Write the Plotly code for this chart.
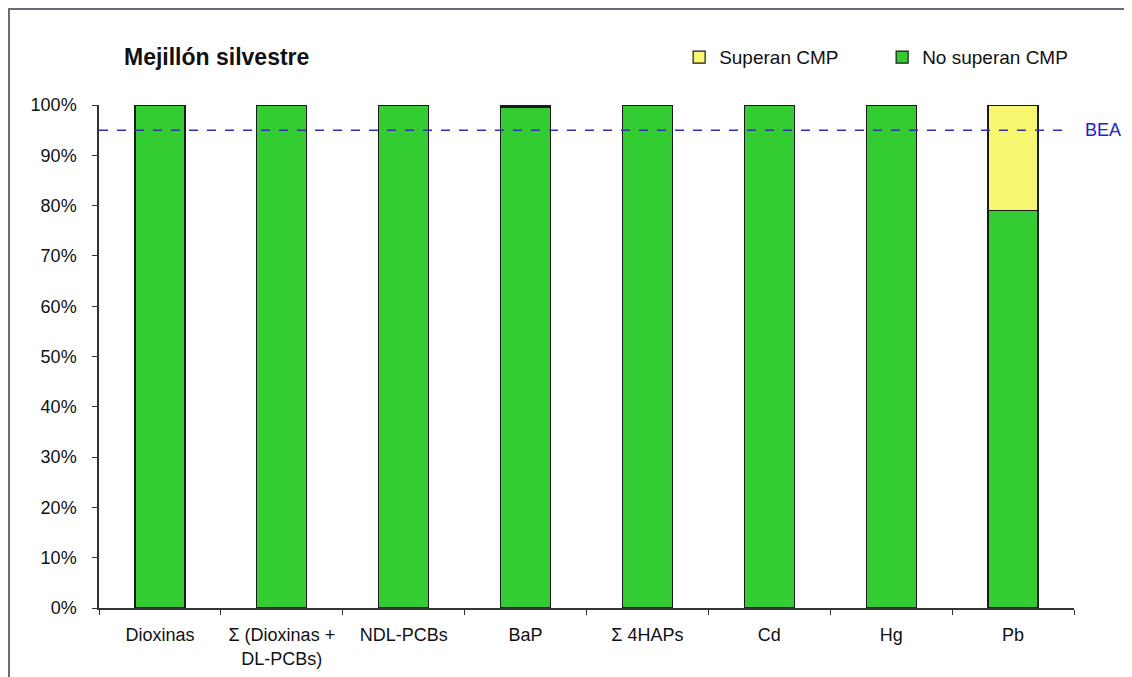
import plotly.graph_objects as go

categories = ["Dioxinas", "Σ (Dioxinas +<br>DL-PCBs)", "NDL-PCBs", "BaP", "Σ 4HAPs", "Cd", "Hg", "Pb"]
no_superan = [1.00, 1.00, 1.00, 0.996, 1.00, 1.00, 1.00, 0.79]
superan = [0.00, 0.00, 0.00, 0.004, 0.00, 0.00, 0.00, 0.21]
bea_level = 0.95
y_ticks = [0, 0.1, 0.2, 0.3, 0.4, 0.5, 0.6, 0.7, 0.8, 0.9, 1.0]

FONT = "Liberation Sans, Arial, sans-serif"

fig = go.Figure()
fig.add_trace(go.Bar(
    x=categories, y=no_superan, name="No superan CMP",
    marker=dict(color="#33cc33", line=dict(color="#1a1a1a", width=1.2)),
    width=0.41, legendrank=2,
))
fig.add_trace(go.Bar(
    x=categories, y=superan, name="Superan CMP",
    marker=dict(color="#f8f870", line=dict(color="#1a1a1a", width=1.2)),
    width=0.41, legendrank=1,
))

fig.add_shape(type="line", xref="paper", yref="y", x0=0, x1=0.991,
              y0=bea_level, y1=bea_level,
              line=dict(color="#3030b0", width=1.5, dash="dash"))
fig.add_annotation(xref="paper", yref="y", x=1.009, y=bea_level, text="BEA",
                   showarrow=False, xanchor="left", yanchor="middle",
                   font=dict(family=FONT, size=18, color="#2222cc"))

fig.add_annotation(xref="paper", yref="paper", x=0.024, y=1.095, text="<b>Mejillón silvestre</b>",
                   showarrow=False, xanchor="left", yanchor="middle",
                   font=dict(family=FONT, size=23, color="#111111"))

fig.add_shape(type="rect", xref="paper", yref="paper", x0=-0.0923, x1=1.2, y0=-0.3, y1=1.191,
              line=dict(color="#6a6a78", width=2), layer="below")

fig.update_layout(
    width=1124, height=669,
    margin=dict(l=91, r=58, t=97, b=69, autoexpand=False),
    barmode="stack",
    plot_bgcolor="white", paper_bgcolor="white",
    font=dict(family=FONT, size=18, color="#111111"),
    showlegend=True,
    legend=dict(orientation="h", x=0.595, y=1.095, xanchor="left", yanchor="middle",
                traceorder="normal",
                font=dict(family=FONT, size=19, color="#111111"),
                entrywidth=158, entrywidthmode="pixels", itemwidth=30,
                bgcolor="rgba(0,0,0,0)"),
    xaxis=dict(showline=True, linecolor="#333333", linewidth=1.5, ticks="outside",
               tickson="boundaries", ticklen=5, tickcolor="#333333",
               tickfont=dict(family=FONT, size=18, color="#111111"),
               ticklabelstandoff=10,
               range=[-0.5, 7.5]),
    yaxis=dict(range=[0, 1], tickvals=y_ticks, tickformat=".0%", showgrid=False,
               showline=True, linecolor="#333333", linewidth=1.5, ticks="outside",
               ticklen=5, tickcolor="#333333", zeroline=False,
               ticklabelstandoff=12,
               tickfont=dict(family=FONT, size=18, color="#111111")),
)

fig.write_html("out.html")
